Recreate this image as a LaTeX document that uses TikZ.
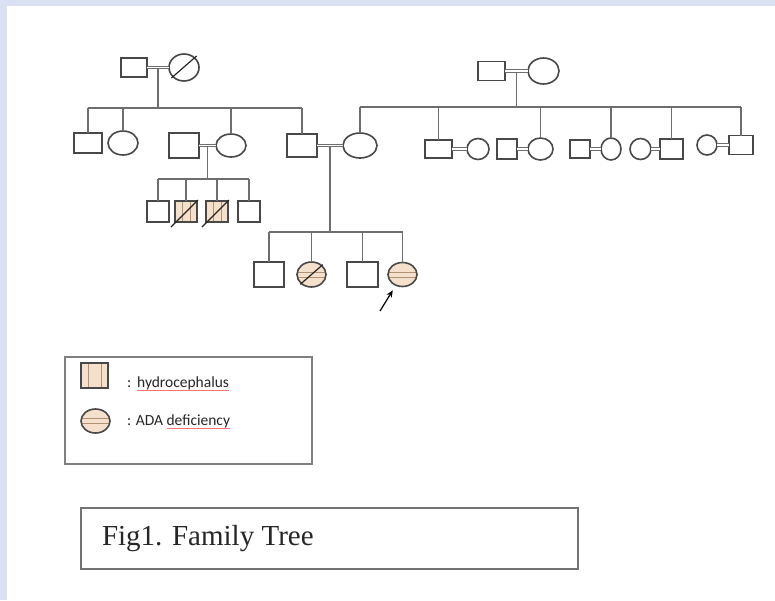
\documentclass[tikz,border=0pt]{standalone}
\usepackage{fontspec}
\setmainfont{Liberation Serif}
\newfontfamily\legfont{Carlito}
\usetikzlibrary{positioning,calc,shapes.geometric,arrows.meta}

\definecolor{bgblue}{RGB}{217,225,242}
\definecolor{linegray}{RGB}{110,110,110}
\definecolor{shapegray}{RGB}{72,72,72}
\definecolor{affect}{RGB}{244,224,203}
\definecolor{hatch}{RGB}{175,145,115}

\begin{document}
\begin{tikzpicture}
[x=1pt,y=-1pt,
 every node/.style={draw=shapegray,line width=1.6pt,inner sep=0pt,outer sep=0pt},
 male/.style={rectangle,minimum width=28pt,minimum height=21pt},
 female/.style={ellipse,minimum width=30pt,minimum height=24pt},
 kid/.style={male,minimum width=22pt,minimum height=21pt},
 aff/.style={fill=affect},
 bars/.style={aff,path picture={
   \foreach \s in {-#1,#1}
     \draw[hatch,line width=0.9pt] ([xshift=\s]path picture bounding box.north) -- ([xshift=\s]path picture bounding box.south);}},
 bars/.default=4pt,
 stripes/.style={aff,path picture={
   \foreach \s in {-2.5pt,2.5pt}
     \draw[hatch,line width=0.9pt] ([yshift=\s]path picture bounding box.west) -- ([yshift=\s]path picture bounding box.east);}},
 mate/.style={draw=linegray,line width=0.8pt,double=white,double distance=1.8pt},
 line/.style={draw=linegray,line width=1.4pt},
 slash/.style={draw=black!85,line width=1.2pt},
 txt/.style={draw=none,font=\legfont\fontsize{15.5}{18}\selectfont,text=black!85},
 spell/.style={draw=red!55,line width=0.6pt}]

\fill[bgblue] (0,0) rectangle (775,600);
\fill[white] (7,6) rectangle (775,600);
\useasboundingbox (0,0) rectangle (775,600);

% first generation
\node[male,minimum width=26pt,minimum height=19pt] (gf1) at (134,67.5) {};
\node[female,minimum height=27pt] (gm1) [on grid,right=50pt of gf1] {};
\node[male,minimum width=27pt,minimum height=19pt] (gf2) at (491.5,71) {};
\node[female,minimum width=31pt,minimum height=26pt] (gm2) [on grid,right=52pt of gf2] {};

% second generation, left side
\node[male,minimum height=20pt] (s1) at (88,143) {};
\node[female] (d1) [on grid,right=35pt of s1] {};
\node[male,minimum width=30pt,minimum height=25pt] (s2) at (184,145.5) {};
\node[female,minimum height=23pt] (w2) [on grid,right=47pt of s2] {};
\node[male,minimum width=30pt,minimum height=23pt] (s3) at (302,145.5) {};
\node[female,minimum width=34pt,minimum height=25pt] (d3) [on grid,right=58pt of s3] {};

% second generation, right side
\node[male,minimum width=27pt,minimum height=18pt] (s4) at (438.5,149) {};
\node[female,minimum width=22pt,minimum height=21pt] (w4) [on grid,right=39.5pt of s4] {};
\node[male,minimum width=20pt,minimum height=20pt] (h5) [on grid,right=29pt of w4] {};
\node[female,minimum width=25pt,minimum height=22pt] (d5) [on grid,right=33.5pt of h5] {};
\node[male,minimum width=20pt,minimum height=18pt] (h6) [on grid,right=39.5pt of d5] {};
\node[female,minimum width=20pt,minimum height=22pt] (d6) [on grid,right=31pt of h6] {};
\node[female,minimum width=21pt,minimum height=21pt] (w7) [on grid,right=29.5pt of d6] {};
\node[male,minimum width=23pt,minimum height=20pt] (s7) [on grid,right=31pt of w7] {};
\node[female,minimum width=20pt,minimum height=20pt] (w8) at (707,145) {};
\node[male,minimum width=24pt,minimum height=19pt] (s8) [on grid,right=34pt of w8] {};

% third generation
\node[kid] (k1) at (158,211.5) {};
\node[kid,bars] (k2) [on grid,right=28pt of k1] {};
\node[kid,bars] (k3) [on grid,right=31pt of k2] {};
\node[kid] (k4) [on grid,right=32pt of k3] {};

\node[male,minimum width=30pt,minimum height=25pt] (p1) at (269,274.5) {};
\node[female,minimum width=29pt,minimum height=25pt,stripes] (p2) [on grid,right=42.5pt of p1] {};
\node[male,minimum width=31pt,minimum height=25pt] (p3) [on grid,right=51pt of p2] {};
\node[female,minimum width=29pt,minimum height=24pt,stripes] (p4) [on grid,right=40pt of p3] {};

% sibship lines
\coordinate (L1) at (0,108);
\coordinate (L2) at (0,107);
\coordinate (L3) at (0,179);
\coordinate (L4) at (0,232);
\coordinate (u1) at ($(gf1.east)!0.5!(gm1.west)$);
\coordinate (u2) at ($(gf2.east)!0.5!(gm2.west)$);
\coordinate (u3) at ($(s2.east)!0.5!(w2.west)$);
\coordinate (u4) at ($(s3.east)!0.5!(d3.west)$);

\draw[line] (s1 |- L1) -- (s3 |- L1);
\draw[line] (u1) -- (u1 |- L1);
\foreach \n in {s1,d1,w2,s3} \draw[line] (\n |- L1) -- (\n);

\draw[line] (d3 |- L2) -- (s8 |- L2);
\draw[line] (u2) -- (u2 |- L2);
\foreach \n in {d3,s4,d5,d6,s7,s8} \draw[line] (\n |- L2) -- (\n);

\draw[line] (k1 |- L3) -- (k4 |- L3);
\draw[line] (u3) -- (u3 |- L3);
\foreach \n in {k1,k2,k3,k4} \draw[line] (\n |- L3) -- (\n);

\draw[line] (p1 |- L4) -- (p4 |- L4);
\draw[line] (u4) -- (u4 |- L4);
\foreach \n in {p1,p2,p3,p4} \draw[line] (\n |- L4) -- (\n);

% couples
\draw[mate] (gf1) -- (gm1);
\draw[mate] (gf2) -- (gm2);
\draw[mate] (s2) -- (w2);
\draw[mate] (s3) -- (d3);
\draw[mate] (s4) -- (w4);
\draw[mate] (h5) -- (d5);
\draw[mate] (h6) -- (d6);
\draw[mate] (w7) -- (s7);
\draw[mate] (w8) -- (s8);

% deceased
\draw[slash] ([shift={(-2pt,-1pt)}]gm1.south west) -- ([shift={(2pt,2pt)}]gm1.north east);
\draw[slash] ([shift={(-4pt,-5pt)}]k2.south west) -- ([shift={(1pt,1pt)}]k2.north east);
\draw[slash] ([shift={(-4pt,-5pt)}]k3.south west) -- ([shift={(1pt,1pt)}]k3.north east);
\draw[slash] ([shift={(-1pt,-1pt)}]p2.south west) -- ([shift={(1pt,1pt)}]p2.north east);

% proband
\coordinate (ar) at (380,311);
\draw[-{Stealth[length=7pt,width=6pt]},line width=1.2pt,black,shorten >=6pt] (ar) -- (p4);

% legend
\node[draw=gray,line width=1.3pt,minimum width=247pt,minimum height=107pt] (leg) at (188.5,410.5) {};
\node[male,minimum width=27pt,minimum height=25pt,bars=6.5pt] (lh) at (94.5,375.5) {};
\node[female,minimum width=29pt,minimum height=24pt,stripes] (la) at (95.5,421) {};
\node[txt,anchor=base west] (lhc) at (127,387) {:};
\node[txt] (lhw) [right=6pt of lhc.base east,anchor=base west] {hydrocephalus};
\node[txt,anchor=base west] (lac) at (127,425) {: ADA};
\node[txt] (law) [right=3.5pt of lac.base east,anchor=base west] {deficiency};
\draw[spell] ([yshift=-3pt]lhw.base west) -- ([yshift=-3pt]lhw.base east);
\draw[spell] ([yshift=-3pt]law.base west) -- ([yshift=-3pt]law.base east);

% caption
\node[draw=gray!90!black,line width=1.5pt,minimum width=497pt,minimum height=61pt] (cap) at (329.5,538.5) {};
\node[draw=none,font=\fontsize{29}{34}\selectfont,text=black!85] (capt) [right=21pt of cap.west] {Fig1. Family Tree};
\end{tikzpicture}
\end{document}
